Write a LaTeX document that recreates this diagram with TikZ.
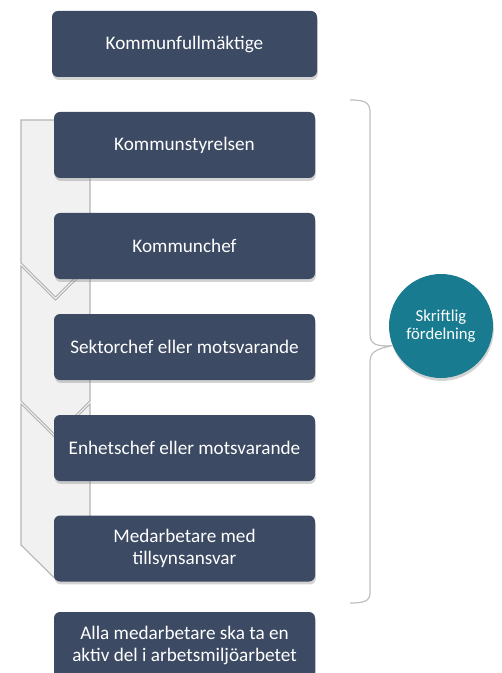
\documentclass[tikz,border=0pt]{standalone}
\usepackage{fontspec}
\setmainfont{Carlito}
\usepackage{tikz}
\usetikzlibrary{shapes,calc,positioning,shadows}

\definecolor{boxblue}{HTML}{3C4A63}
\definecolor{circteal}{HTML}{187B8F}
\definecolor{bracegray}{HTML}{BFBFBF}
\definecolor{chevfill}{HTML}{F1F1F1}
\definecolor{chevline}{HTML}{B4B4B4}

\begin{document}
\begin{tikzpicture}[x=0.75pt, y=-0.75pt,
    box_style/.style={rectangle, rounded corners=4.5pt, fill=boxblue, text=white, align=center,
        minimum width=195.75pt, minimum height=49.5pt, font=\fontsize{14.4}{16.5}\selectfont,
        drop shadow={shadow xshift=0.6pt, shadow yshift=-2.2pt, opacity=0.35}},
    circle_style/.style={circle, fill=circteal, text=white, align=center, minimum size=78pt,
        inner sep=0pt, font=\fontsize{12.5}{13.5}\selectfont,
        drop shadow={shadow xshift=0.6pt, shadow yshift=-2.2pt, opacity=0.35}},
    chevron_style/.style={fill=chevfill, draw=chevline, line width=0.8pt, line join=miter},
    brace_style/.style={draw=bracegray, line width=0.9pt}]

	\useasboundingbox (0,0) rectangle (502,673);

	% chevrons behind the boxes
	\draw[chevron_style] (21,120) -- (90,120) -- (90,263) -- (55.5,297) -- (21,263) -- cycle;
	\draw[chevron_style] (21,266) -- (55.5,300) -- (90,266) -- (90,401) -- (55.5,435) -- (21,401) -- cycle;
	\draw[chevron_style] (21,404) -- (55.5,438) -- (90,404) -- (90,545) -- (55.5,579) -- (21,545) -- cycle;

	\node[box_style, minimum width=198.75pt] (b1) at (184.5, 44) {Kommunfullmäktige};
	\node[box_style] (b2) at (184.5, 145) {Kommunstyrelsen};
	\node[box_style] (b3) at (184.5, 246) {Kommunchef};
	\node[box_style] (b4) at (184.5, 347) {Sektorchef eller motsvarande};
	\node[box_style] (b5) at (184.5, 448) {Enhetschef eller motsvarande};
	\node[box_style] (b6) at (184.5, 548.5) {Medarbetare med\\tillsynsansvar};
	\node[box_style] (b7) at (184.5, 645) {Alla medarbetare ska ta en\\aktiv del i arbetsmiljöarbetet};

	\node[circle_style] (c) at (441, 326) {Skriftlig\\fördelning};

	% brace
	\coordinate (bt) at (350,100);
	\coordinate (bb) at (350,603);
	\draw[brace_style] (bt) .. controls (364,100) and (370,102) .. (370,112) -- (370,334)
		.. controls (370,344) and (376,347) .. (c.202)
		.. controls (376,349) and (370,352) .. (370,362) -- (370,593)
		.. controls (370,601) and (364,603) .. (bb);
\end{tikzpicture}
\end{document}
